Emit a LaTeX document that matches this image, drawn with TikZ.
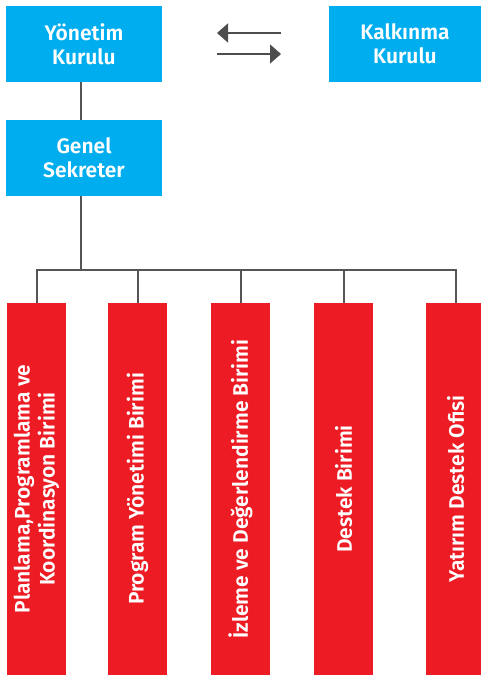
\documentclass[tikz,border=0pt]{standalone}
\usepackage{fontspec}
\setmainfont{Fira Sans}
\newfontfamily\semib{Fira Sans SemiBold}
\usetikzlibrary{arrows.meta}
\definecolor{boxblue}{HTML}{00AEEF}
\definecolor{boxred}{HTML}{ED1C24}
\definecolor{linegray}{HTML}{555555}
\definecolor{arrowgray}{HTML}{4D4D4D}
\begin{document}
\begin{tikzpicture}[x=1pt,y=-1pt,
  bluebox/.style={fill=boxblue, draw=none, minimum width=156pt, minimum height=76pt,
    inner sep=0pt, text=white, font=\semib\fontsize{21}{24}\selectfont, align=center},
  redbox/.style={fill=boxred, draw=none, minimum width=59pt, minimum height=372pt, inner sep=0pt},
  redlabel/.style={rotate=90, text=white, inner sep=0pt,
    font=\semib\fontsize{21}{25}\selectfont, align=center},
  conn/.style={draw=linegray, line width=2pt, line join=miter},
  flow/.style={draw=arrowgray, line width=1.6pt, -{Triangle[length=11pt,width=19pt]}}]
\useasboundingbox (0,0) rectangle (481,675);

\node[bluebox] (yk) at (84,44) {Yönetim\\Kurulu};
\node[bluebox, minimum width=152pt] (kk) at (405,44) {Kalkınma\\Kurulu};
\node[bluebox] (gs) at (84,158) {Genel\\Sekreter};

\coordinate (a1s) at (281,33);
\coordinate (a1e) at (217,33);
\coordinate (a2s) at (217,54);
\coordinate (a2e) at (281,54);
\draw[flow] (a1s) -- (a1e);
\draw[flow] (a2s) -- (a2e);

\node[redbox] (r1) at (36.5,489) {};
\node[redbox] (r2) at (137.5,489) {};
\node[redbox] (r3) at (240.5,489) {};
\node[redbox] (r4) at (343.5,489) {};
\node[redbox] (r5) at (455.5,489) {};

\node[redlabel] (t1) at (r1.center) {Planlama,Programlama ve\\Koordinasyon Birimi};
\node[redlabel] (t2) at (r2.center) {Program Yönetimi Birimi};
\node[redlabel] (t3) at (r3.center) {İzleme ve Değerlendirme Birimi};
\node[redlabel] (t4) at (r4.center) {Destek Birimi};
\node[redlabel] (t5) at (r5.center) {Yatırım Destek Ofisi};

\coordinate (bus) at (81,270);
\draw[conn] ([xshift=-3pt]yk.south) -- ([xshift=-3pt]gs.north);
\draw[conn] ([xshift=-3pt]gs.south) -- (bus);
\draw[conn] (r1.north) -- (r1.north |- bus) -- (r5.north |- bus) -- (r5.north);
\draw[conn] (r2.north) -- (r2.north |- bus);
\draw[conn] (r3.north) -- (r3.north |- bus);
\draw[conn] (r4.north) -- (r4.north |- bus);
\end{tikzpicture}
\end{document}
